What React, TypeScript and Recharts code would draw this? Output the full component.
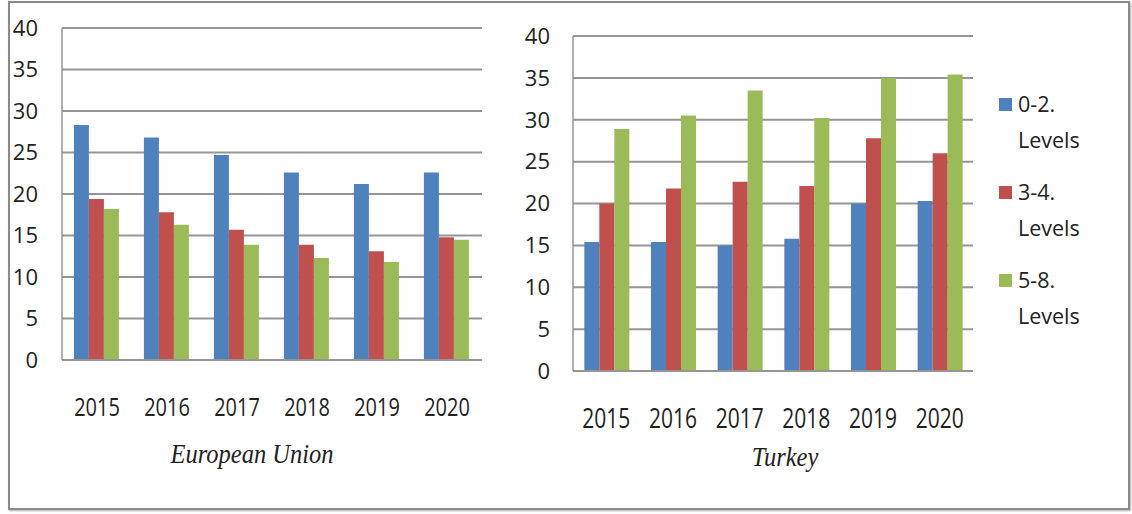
import React from 'react';
import { BarChart, Bar, XAxis, YAxis, CartesianGrid, Legend } from 'recharts';

const years = ['2015', '2016', '2017', '2018', '2019', '2020'];
const seriesNames = ['0-2. Levels', '3-4. Levels', '5-8. Levels'];
const seriesColors = ['#4F81BD', '#C0504D', '#9BBB59'];
const yTicks = [0, 5, 10, 15, 20, 25, 30, 35, 40];

const euLow = [28.3, 26.8, 24.7, 22.6, 21.2, 22.6];
const euMid = [19.4, 17.8, 15.7, 13.9, 13.1, 14.8];
const euHigh = [18.2, 16.3, 13.9, 12.3, 11.8, 14.5];

const trLow = [15.4, 15.4, 15.0, 15.8, 20.0, 20.3];
const trMid = [20.0, 21.8, 22.6, 22.1, 27.8, 26.0];
const trHigh = [28.9, 30.5, 33.5, 30.2, 35.0, 35.4];

const chartTitles = ['European Union', 'Turkey'];

const euData = years.map((y, i) => ({ year: y, low: euLow[i], mid: euMid[i], high: euHigh[i] }));
const trData = years.map((y, i) => ({ year: y, low: trLow[i], mid: trMid[i], high: trHigh[i] }));

const SANS = '"Open Sans", "Noto Sans", sans-serif';
const GRID = '#959595';

const XTick = (props: any) => {
  const { x, y, payload, dy, fs } = props;
  return (
    <g transform={`translate(${x},${y + dy}) scale(1,1.3)`}>
      <text x={0} y={0} textAnchor="middle" fontSize={fs} fontFamily={SANS} fill="#222">
        {payload.value}
      </text>
    </g>
  );
};

const LegendContent = (props: any) => {
  const payload = props.payload || [];
  return (
    <div style={{ position: 'relative', width: 130, height: 270 }}>
      {payload.map((p: any, i: number) => (
        <div key={i} style={{ position: 'absolute', left: 0, top: i * 88, width: 130 }}>
          <div style={{ position: 'absolute', left: 0, top: 12, width: 13, height: 13, background: p.color }} />
          <div
            style={{
              position: 'absolute',
              left: 19,
              top: 0,
              width: 80,
              fontFamily: SANS,
              fontSize: 21.5,
              lineHeight: '36px',
              color: '#222',
              whiteSpace: 'normal',
            }}
          >
            {String(p.value)}
          </div>
        </div>
      ))}
    </div>
  );
};

const keys = ['low', 'mid', 'high'];

export default function App() {
  return (
    <div style={{ position: 'absolute', left: 0, top: 0, width: 1132, height: 514, background: '#fff', overflow: 'hidden' }}>
      <div
        style={{
          position: 'absolute',
          left: 8,
          top: 1,
          width: 1122,
          height: 509,
          boxSizing: 'border-box',
          border: '2px solid #8a8a8a',
          boxShadow: '1px 1px 2px #b0b0b0',
        }}
      />
      <div style={{ position: 'absolute', left: 0, top: 0 }}>
        <BarChart
          width={490}
          height={430}
          data={euData}
          margin={{ top: 28, right: 8, left: 0, bottom: 0 }}
          barCategoryGap="17%"
          barGap={0}
        >
          <CartesianGrid vertical={false} stroke={GRID} strokeWidth={2} />
          <XAxis
            dataKey="year"
            height={70}
            interval={0}
            tickLine={false}
            tickSize={0}
            tickMargin={0}
            axisLine={{ stroke: GRID, strokeWidth: 2 }}
            tick={<XTick dy={55.5} fs={20} />}
          />
          <YAxis
            width={62}
            domain={[0, 40]}
            ticks={yTicks}
            interval={0}
            tickLine={false}
            tickSize={0}
            tickMargin={24}
            axisLine={{ stroke: GRID, strokeWidth: 1.5 }}
            tick={{ fontSize: 22, fill: '#222', fontFamily: SANS }}
          />
          {keys.map((k, i) => (
            <Bar key={k} dataKey={k} name={seriesNames[i]} fill={seriesColors[i]} isAnimationActive={false} />
          ))}
        </BarChart>
      </div>
      <div style={{ position: 'absolute', left: 500, top: 0 }}>
        <BarChart
          width={632}
          height={461}
          data={trData}
          margin={{ top: 36, right: 159, left: 0, bottom: 0 }}
          barCategoryGap="17%"
          barGap={0}
        >
          <CartesianGrid vertical={false} stroke={GRID} strokeWidth={2} />
          <XAxis
            dataKey="year"
            height={90}
            interval={0}
            tickLine={false}
            tickSize={0}
            tickMargin={0}
            axisLine={{ stroke: GRID, strokeWidth: 2 }}
            tick={<XTick dy={56.5} fs={21} />}
          />
          <YAxis
            width={73}
            domain={[0, 40]}
            ticks={yTicks}
            interval={0}
            tickLine={false}
            tickSize={0}
            tickMargin={23}
            axisLine={{ stroke: GRID, strokeWidth: 1.5 }}
            tick={{ fontSize: 22, fill: '#222', fontFamily: SANS }}
          />
          <Legend
            layout="horizontal"
            align="center"
            verticalAlign="middle"
            content={<LegendContent />}
            wrapperStyle={{ position: 'absolute', left: 499, top: 86, width: 130, height: 270 }}
          />
          {keys.map((k, i) => (
            <Bar key={k} dataKey={k} name={seriesNames[i]} fill={seriesColors[i]} isAnimationActive={false} />
          ))}
        </BarChart>
      </div>
      <svg width={1132} height={514} style={{ position: 'absolute', left: 0, top: 0, pointerEvents: 'none' }}>
        <g transform="translate(252,463) scale(1,1.15)">
          <text x={0} y={0} textAnchor="middle" fontFamily='"Liberation Serif", serif' fontStyle="italic" fontSize={24.5} fill="#222">
            {chartTitles[0]}
          </text>
        </g>
        <g transform="translate(785,466) scale(1,1.15)">
          <text x={0} y={0} textAnchor="middle" fontFamily='"Liberation Serif", serif' fontStyle="italic" fontSize={24.5} fill="#222">
            {chartTitles[1]}
          </text>
        </g>
      </svg>
    </div>
  );
}
